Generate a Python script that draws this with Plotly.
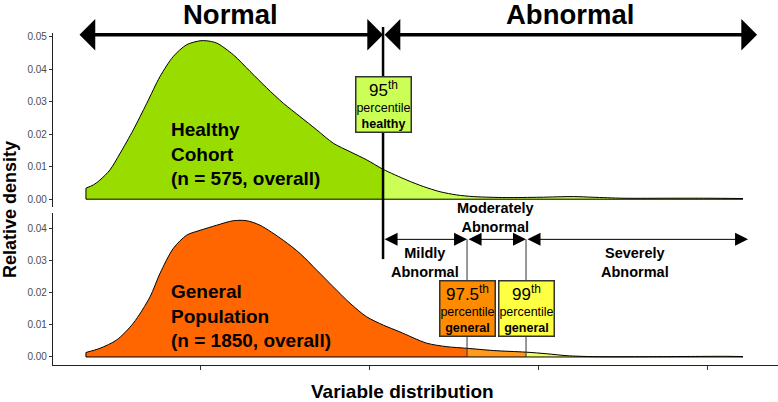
import plotly.graph_objects as go

# ---------------- data ----------------
# Healthy cohort density (top panel)
healthy_x = [0.325, 0.369, 0.408, 0.467, 0.527, 0.605, 0.685, 0.763, 0.842, 0.921,
             1.000, 1.040, 1.099, 1.197, 1.296, 1.395, 1.493, 1.592, 1.691, 1.789,
             1.888, 1.986, 2.083, 2.223, 2.321, 2.420, 2.519, 2.617, 2.716, 2.815,
             3.012, 3.209, 3.325, 3.503, 3.799, 4.000, 4.213]
healthy_y = [0.0034, 0.0044, 0.0059, 0.0090, 0.0141, 0.0213, 0.0295, 0.0377, 0.0439, 0.0475,
             0.0487, 0.0487, 0.0480, 0.0444, 0.0393, 0.0342, 0.0295, 0.0254, 0.0213, 0.0172,
             0.0146, 0.0121, 0.0092, 0.0059, 0.0039, 0.0023, 0.0013, 0.0008, 0.0006, 0.0005,
             0.0006, 0.0008, 0.0006, 0.0003, 0.0003, 0.0003, 0.0002]

# General population density (bottom panel)
general_x = [0.325, 0.408, 0.507, 0.605, 0.704, 0.763, 0.842, 0.921, 1.000, 1.099,
             1.197, 1.276, 1.355, 1.493, 1.592, 1.691, 1.789, 1.888, 1.986, 2.085,
             2.183, 2.341, 2.460, 2.580, 2.736, 2.929, 3.051, 3.170, 3.327, 3.722,
             4.117, 4.213]
general_y = [0.0014, 0.0027, 0.0053, 0.0105, 0.0187, 0.0260, 0.0338, 0.0379, 0.0394, 0.0410,
             0.0424, 0.0424, 0.0410, 0.0363, 0.0322, 0.0270, 0.0218, 0.0167, 0.0125, 0.0099,
             0.0078, 0.0043, 0.0032, 0.0027, 0.0020, 0.0015, 0.0010, 0.0004, 0.0001, 0.0001,
             0.0002, 0.0001]

p95_healthy = 2.083
p975_general = 2.580
p99_general = 2.929

x_ticks = [1, 2, 3, 4]
top_ticks = [0.00, 0.01, 0.02, 0.03, 0.04, 0.05]
bottom_ticks = [0.00, 0.01, 0.02, 0.03, 0.04]
top_ticklabels = ["0.00", "0.01", "0.02", "0.03", "0.04", "0.05"]
bottom_ticklabels = ["0.00", "0.01", "0.02", "0.03", "0.04"]

# ---------------- styles ----------------
FONT = "Liberation Sans, Arial, Helvetica, sans-serif"
GREEN = "#99DD00"
GREEN_LIGHT = "#CCFF55"
ORANGE = "#FF6600"
ORANGE_MID = "#FF9A1A"
ORANGE_BOX = "#FF8C00"
YELLOW_LIGHT = "#EEFF66"
YELLOW_BOX = "#FFFF44"


def segment(xs, ys, lo, hi):
    sx, sy = [], []
    for a, b in zip(xs, ys):
        if lo <= a <= hi:
            sx.append(a)
            sy.append(b)
    return sx, sy


fig = go.Figure()


def add_fill(xs, ys, color, xa, ya):
    fig.add_trace(go.Scatter(x=xs, y=ys, mode="lines", fill="tozeroy", fillcolor=color,
                             line=dict(width=0, shape="spline", smoothing=0.8, color=color),
                             xaxis=xa, yaxis=ya, hoverinfo="skip", showlegend=False))


def add_outline(xs, ys, xa, ya):
    fig.add_trace(go.Scatter(x=xs, y=ys, mode="lines",
                             line=dict(width=1, shape="spline", smoothing=0.8, color="black"),
                             xaxis=xa, yaxis=ya, hoverinfo="skip", showlegend=False))
    fig.add_trace(go.Scatter(x=[xs[-1], xs[0], xs[0]], y=[0, 0, ys[0]], mode="lines",
                             line=dict(width=1, color="black"),
                             xaxis=xa, yaxis=ya, hoverinfo="skip", showlegend=False))


# top panel: healthy
add_fill(healthy_x, healthy_y, GREEN, "x", "y")
tx, ty = segment(healthy_x, healthy_y, p95_healthy, 99)
add_fill(tx, ty, GREEN_LIGHT, "x", "y")
add_outline(healthy_x, healthy_y, "x", "y")

# bottom panel: general
add_fill(general_x, general_y, ORANGE, "x2", "y2")
mx, my = segment(general_x, general_y, p975_general, 99)
add_fill(mx, my, ORANGE_MID, "x2", "y2")
sx, sy = segment(general_x, general_y, p99_general, 99)
add_fill(sx, sy, YELLOW_LIGHT, "x2", "y2")
add_outline(general_x, general_y, "x2", "y2")

ARROW_Y_TOP = 0.0506
ARROW_Y_BOT = 0.0366

shapes = [
    dict(type="line", xref="x", yref="paper", x0=p95_healthy, x1=p95_healthy, y0=0.319, y1=1.018,
         line=dict(color="black", width=2.5)),
    dict(type="line", xref="x2", yref="y2", x0=p975_general, x1=p975_general, y0=0, y1=ARROW_Y_BOT,
         line=dict(color="#333333", width=1)),
    dict(type="line", xref="x2", yref="y2", x0=p99_general, x1=p99_general, y0=0, y1=ARROW_Y_BOT,
         line=dict(color="#333333", width=1)),
]

annotations = []


def arrow(x0, x1, y, xr, yr, width, head, size):
    annotations.append(dict(x=x1, y=y, ax=x0, ay=y, xref=xr, yref=yr, axref=xr, ayref=yr,
                            text="", showarrow=True, arrowside="end+start",
                            arrowhead=head, startarrowhead=head, arrowsize=size,
                            startarrowsize=size, arrowwidth=width, arrowcolor="black",
                            standoff=0, startstandoff=0))


arrow(0.278, p95_healthy, ARROW_Y_TOP, "x", "y", 3.5, 1, 1.5)
arrow(p95_healthy, 4.296, ARROW_Y_TOP, "x", "y", 3.5, 1, 1.5)
arrow(p95_healthy, p975_general, ARROW_Y_BOT, "x2", "y2", 1, 2, 2.6)
arrow(p975_general, p99_general, ARROW_Y_BOT, "x2", "y2", 1, 2, 2.6)
arrow(p99_general, 4.243, ARROW_Y_BOT, "x2", "y2", 1, 2, 2.6)


def label(text, x, y, xr, yr, size, xanchor="center", align="center", angle=0):
    annotations.append(dict(text=text, x=x, y=y, xref=xr, yref=yr, showarrow=False,
                            xanchor=xanchor, yanchor="middle", align=align, textangle=angle,
                            font=dict(family=FONT, size=size, color="black")))


label("<b>Normal</b>", 1.183, 1.056, "x", "paper", 27.5)
label("<b>Abnormal</b>", 3.189, 1.056, "x", "paper", 27.5)
label("<b>Healthy<br>Cohort<br>(n = 575, overall)</b>", 0.817, 0.0139, "x", "y", 19,
      xanchor="left", align="left")
label("<b>General<br>Population<br>(n = 1850, overall)</b>", 0.817, 0.0127, "x2", "y2", 19,
      xanchor="left", align="left")
label("<b>Mildly<br>Abnormal</b>", 2.331, 0.0293, "x2", "y2", 14.5)
label("<b>Moderately<br>Abnormal</b>", 2.751, 0.0435, "x2", "y2", 14.5)
label("<b>Severely<br>Abnormal</b>", 3.574, 0.0293, "x2", "y2", 14.5)
label("<b>Variable distribution</b>", 2.201, -0.081, "x", "paper", 19)
label("<b>Relative density</b>", -0.0593, 0.467, "paper", "paper", 18, angle=-90)


def box(top, sub, x, y, xr, yr, color):
    annotations.append(dict(
        text=(f"<span style='font-size:17px'>{top}<sup>th</sup></span><br>"
              f"percentile<br><b>{sub}</b>"),
        x=x, y=y, xref=xr, yref=yr, showarrow=False, xanchor="center", yanchor="middle",
        width=54, height=54, bgcolor=color, bordercolor="#333333", borderwidth=1.5,
        borderpad=0, align="center", font=dict(family=FONT, size=12.5, color="black")))


box("95", "healthy", p95_healthy, 0.029, "x", "y", GREEN_LIGHT)
box("97.5", "general", p975_general, 0.0151, "x2", "y2", ORANGE_BOX)
box("99", "general", p99_general, 0.0151, "x2", "y2", YELLOW_BOX)

axis_common = dict(showgrid=False, zeroline=False, fixedrange=True, automargin=False)
fig.update_layout(
    width=778, height=402,
    margin=dict(l=53, r=0, t=33, b=37),
    paper_bgcolor="white", plot_bgcolor="white",
    font=dict(family=FONT),
    showlegend=False,
    xaxis=dict(domain=[0, 1], range=[0.130, 4.420], anchor="y", showline=False,
               showticklabels=False, ticks="", **axis_common),
    xaxis2=dict(domain=[0, 1], range=[0.130, 4.420], anchor="y2", showline=True,
                linecolor="#222222", linewidth=1.3, ticks="outside", ticklen=4,
                tickcolor="#333333", tickvals=x_ticks, showticklabels=False, **axis_common),
    yaxis=dict(domain=[0.4759, 1], range=[-0.0024, 0.0511], anchor="x", showline=True,
               linecolor="#222222", linewidth=1.3, ticks="outside", ticklen=3,
               tickcolor="#333333", tickvals=top_ticks, ticktext=top_ticklabels,
               tickfont=dict(size=10, color="#4D4D4D", family=FONT), **axis_common),
    yaxis2=dict(domain=[0, 0.4578], range=[-0.0025, 0.0448], anchor="x2", showline=True,
                linecolor="#222222", linewidth=1.3, ticks="outside", ticklen=3,
                tickcolor="#333333", tickvals=bottom_ticks, ticktext=bottom_ticklabels,
                tickfont=dict(size=10, color="#4D4D4D", family=FONT), **axis_common),
    shapes=shapes,
    annotations=annotations,
)

fig.write_html("out.html", config={"displayModeBar": False},
               post_script="document.body.style.margin='0px';document.body.style.padding='0px';")
